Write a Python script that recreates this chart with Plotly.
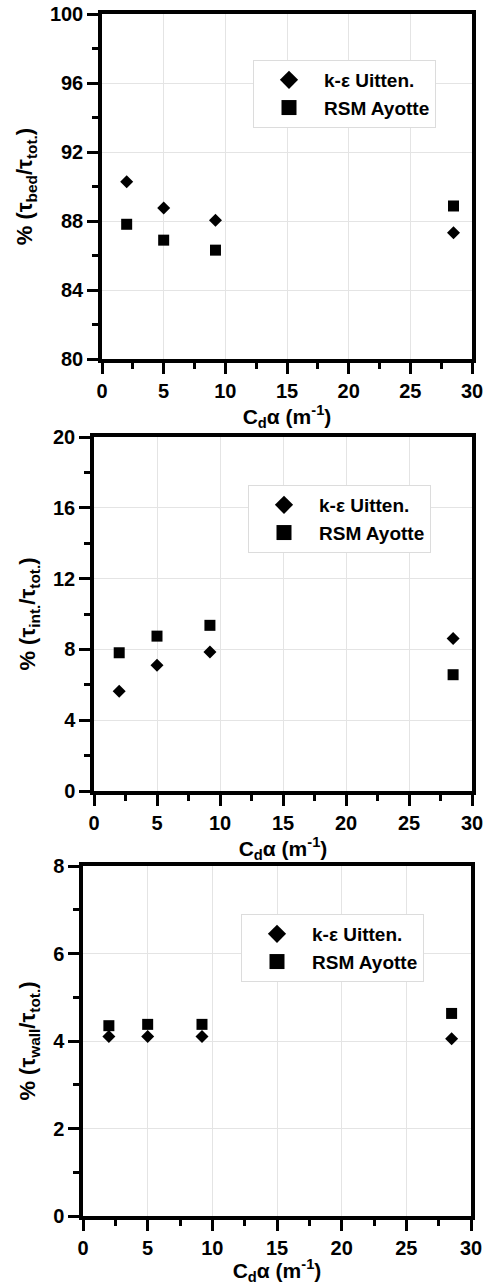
import plotly.graph_objects as go

# ---- data ----
x_vals = [2.0, 5.0, 9.2, 28.5]
bed_ke = [90.27, 88.76, 88.04, 87.32]
bed_rsm = [87.81, 86.89, 86.31, 88.87]
int_ke = [5.64, 7.11, 7.85, 8.62]
int_rsm = [7.81, 8.75, 9.36, 6.57]
wall_ke = [4.10, 4.10, 4.10, 4.05]
wall_rsm = [4.35, 4.38, 4.38, 4.63]

series_names = ["k-ε Uitten.", "RSM Ayotte"]
y_titles = [
    "% (τ<sub>bed</sub>/τ<sub>tot.</sub>)",
    "% (τ<sub>int.</sub>/τ<sub>tot.</sub>)",
    "% (τ<sub>wall</sub>/τ<sub>tot.</sub>)",
]
x_title = "C<sub>d</sub>α (m<sup>-1</sup>)"
y_ranges = [[80, 100], [0, 20], [0, 8]]
y_dticks = [4, 4, 2]
x_range = [0, 30]

W, H = 485, 1285
# pixel boxes of the three plot areas: (left, right, top, bottom)
boxes = [(102, 472, 14, 359), (94, 472, 437, 791), (83, 471, 866, 1216)]
legend_pos = [(253, 60), (248, 485), (241, 914)]

FONT = "Liberation Sans"
tickfont = dict(family=FONT, size=20, color="black", weight="bold")
xtitlefont = dict(family=FONT, size=21, color="black", weight="bold")
ytitlefont = dict(family=FONT, size=22, color="black", weight="bold")

fig = go.Figure()
panels = [(bed_ke, bed_rsm), (int_ke, int_rsm), (wall_ke, wall_rsm)]
for i, (ke, rsm) in enumerate(panels):
    n = "" if i == 0 else str(i + 1)
    xa, ya = "x" + n, "y" + n
    leg = "legend" + n
    fig.add_trace(go.Scatter(x=x_vals, y=ke, mode="markers", xaxis=xa, yaxis=ya,
                             name=series_names[0], showlegend=False,
                             marker=dict(symbol="diamond", size=10, color="black")))
    fig.add_trace(go.Scatter(x=x_vals, y=rsm, mode="markers", xaxis=xa, yaxis=ya,
                             name=series_names[1], showlegend=False,
                             marker=dict(symbol="square", size=11, color="black")))
    # legend entries (larger symbols as in the reference)
    fig.add_trace(go.Scatter(x=[None], y=[None], mode="markers", xaxis=xa, yaxis=ya,
                             name=series_names[0], legend=leg,
                             marker=dict(symbol="diamond", size=14, color="black")))
    fig.add_trace(go.Scatter(x=[None], y=[None], mode="markers", xaxis=xa, yaxis=ya,
                             name=series_names[1], legend=leg,
                             marker=dict(symbol="square", size=15, color="black")))

    l, r, t, b = boxes[i]
    common = dict(showline=True, linewidth=3.5, linecolor="black", mirror=True,
                  showgrid=True, gridcolor="#e4e4e4", gridwidth=1,
                  ticks="outside", ticklen=11, tickwidth=3, tickcolor="black",
                  tickfont=tickfont, zeroline=False, automargin=False,
                  ticklabeloverflow="allow")
    fig.layout["xaxis" + n] = dict(
        domain=[l / W, r / W], anchor=ya, range=x_range, dtick=5, tick0=0,
        minor=dict(ticks="outside", ticklen=6, tickwidth=3, tickcolor="black",
                   dtick=2.5, showgrid=False),
        title=dict(text=x_title, font=xtitlefont, standoff=6), **common)
    fig.layout["yaxis" + n] = dict(
        domain=[1 - b / H, 1 - t / H], anchor=xa, range=y_ranges[i], dtick=y_dticks[i],
        tick0=y_ranges[i][0],
        minor=dict(ticks="outside", ticklen=6, tickwidth=3, tickcolor="black",
                   dtick=y_dticks[i] / 2, showgrid=False),
        title=dict(text=y_titles[i], font=ytitlefont, standoff=12), **common)
    lx, ly = legend_pos[i]
    fig.layout[leg] = dict(x=lx / W, y=1 - ly / H, xanchor="left", yanchor="top",
                           bgcolor="white", bordercolor="#dcdcdc", borderwidth=1,
                           font=dict(family=FONT, size=19, color="black", weight="bold"),
                           itemwidth=60, tracegroupgap=0)

fig.update_layout(width=W, height=H, margin=dict(l=0, r=0, t=0, b=0, autoexpand=False),
                  plot_bgcolor="white", paper_bgcolor="white")
# remove the browser's default 8px body margin so the figure fills the window
fig.write_html("out.html", config={"displayModeBar": False},
               post_script="document.body.style.margin='0px';")
